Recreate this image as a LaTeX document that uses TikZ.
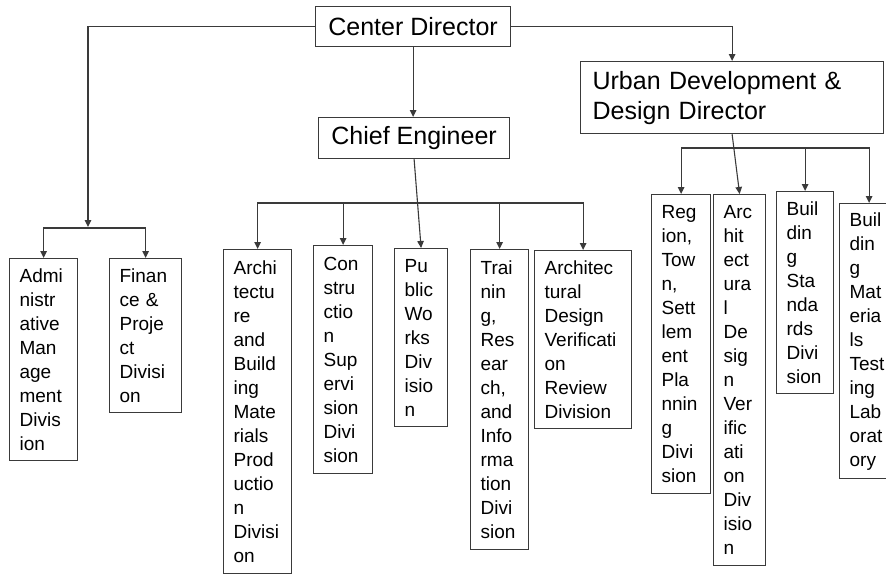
\documentclass[tikz,border=0pt]{standalone}
\usepackage{fontspec}
\setmainfont{Liberation Sans}
\usetikzlibrary{arrows.meta}
\definecolor{lc}{HTML}{3A3A3A}
\begin{document}
\begin{tikzpicture}[x=1pt,y=-1pt,
  head/.style={draw=lc, line width=1.2pt, anchor=north west, inner sep=0pt,
    font=\fontsize{25}{30}\selectfont},
  unit/.style={draw=lc, line width=1.2pt, anchor=north west, align=left,
    inner xsep=10pt, inner ysep=0pt, font=\fontsize{19}{24}\selectfont},
  link/.style={draw=lc, line width=1.1pt, -{Triangle[length=7pt,width=6.5pt]}},
]
\useasboundingbox (0,0) rectangle (886,574);

% directors
\node[head, minimum width=195pt, minimum height=40pt] (cd) at (315,6) {Center Director};
\node[head, minimum width=191pt, minimum height=41pt] (ce) at (318,117) {Chief Engineer};
\node[head, minimum width=303pt, minimum height=72pt, align=left, text width=279pt,
  inner xsep=12pt] (ud) at (580,61) {Urban Development \&\\Design Director};

% divisions under the center director
\node[unit, text width=48pt, minimum height=202pt] (adm) at (9,258)
  {Admi\\nistr\\ative\\Man\\age\\ment\\Divis\\ion};
\node[unit, text width=52pt, minimum height=154pt] (fin) at (109,258)
  {Finan\\ce \&\\Proje\\ct\\Divisi\\on};

% divisions under the chief engineer
\node[unit, text width=48pt, minimum height=324pt] (ab) at (223,249)
  {Archi\\tectu\\re\\and\\Build\\ing\\Mate\\rials\\Prod\\uctio\\n\\Divisi\\on};
\node[unit, text width=39pt, minimum height=228pt] (cs) at (313,245)
  {Con\\stru\\ctio\\n\\Sup\\ervi\\sion\\Divi\\sion};
\node[unit, text width=33pt, minimum height=178pt] (pw) at (394,248)
  {Pu\\blic\\Wo\\rks\\Div\\isio\\n};
\node[unit, text width=38pt, minimum height=300pt] (tr) at (470,249)
  {Trai\\nin\\g,\\Res\\ear\\ch,\\and\\Info\\rma\\tion\\Divi\\sion};
\node[unit, text width=77pt, minimum height=178pt] (ad) at (534,250)
  {Architec\\tural\\Design\\Verificati\\on\\Review\\Division};

% divisions under the urban development director
\node[unit, text width=39pt, minimum height=299pt] (rg) at (651,194)
  {Reg\\ion,\\Tow\\n,\\Sett\\lem\\ent\\Pla\\nnin\\g\\Divi\\sion};
\node[unit, text width=32pt, minimum height=371pt] (av) at (713,194)
  {Arc\\hit\\ect\\ura\\l\\De\\sig\\n\\Ver\\ific\\ati\\on\\Div\\isio\\n};
\node[unit, text width=37pt, minimum height=202pt] (bs) at (776,191)
  {Buil\\din\\g\\Sta\\nda\\rds\\Divi\\sion};
\node[unit, text width=39pt, minimum height=275pt] (bm) at (839,203)
  {Buil\\din\\g\\Mat\\eria\\ls\\Test\\ing\\Lab\\orat\\ory};

% connectors from the center director
\coordinate (lt) at (88,227);
\coordinate (lb) at (88,228);
\draw[link] (cd.west) -| (lt);
\draw[link] (lb) -| (adm.north);
\draw[link] (lb) -| (fin.north);
\draw[link] (cd.south) -- (cd.south |- ce.north);
\draw[link] (cd.east) -| (ud.north);

% connectors from the chief engineer
\coordinate (cb) at (418,203);
\draw[link] (ce.south) -- (pw.north);
\draw[link] (cb) -| (ab.north);
\draw[link] (cb) -| (ad.north);
\draw[link] (cs.north |- cb) -- (cs.north);
\draw[link] (tr.north |- cb) -- (tr.north);

% connectors from the urban development director
\coordinate (ub) at (735,148);
\draw[link] (ud.south) -- (av.north);
\draw[link] (ub) -| (rg.north);
\draw[link] (ub) -| (bm.north);
\draw[link] (bs.north |- ub) -- (bs.north);
\end{tikzpicture}
\end{document}
